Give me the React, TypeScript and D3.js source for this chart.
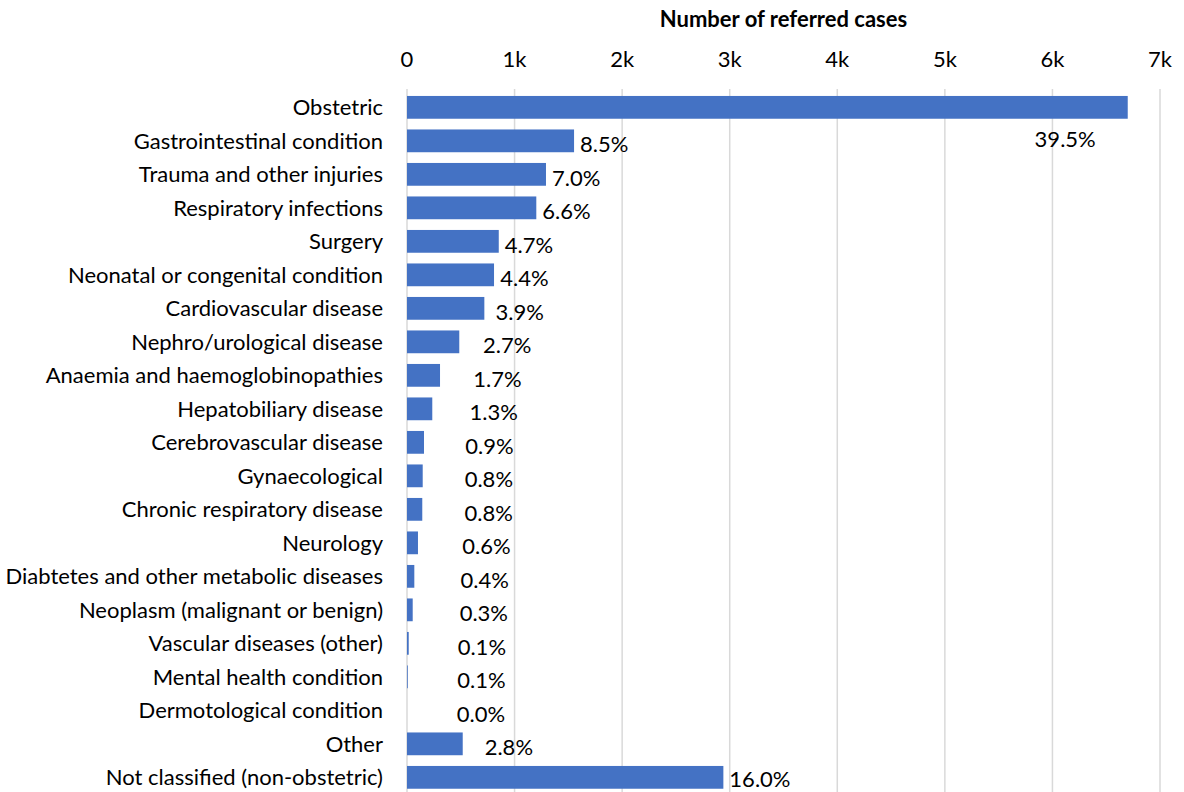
import React, { useEffect, useRef } from "react";
import * as d3 from "d3";

const categories = [
  "Obstetric",
  "Gastrointestinal condition",
  "Trauma and other injuries",
  "Respiratory infections",
  "Surgery",
  "Neonatal or congenital condition",
  "Cardiovascular disease",
  "Nephro/urological disease",
  "Anaemia and haemoglobinopathies",
  "Hepatobiliary disease",
  "Cerebrovascular disease",
  "Gynaecological",
  "Chronic respiratory disease",
  "Neurology",
  "Diabtetes and other metabolic diseases",
  "Neoplasm (malignant or benign)",
  "Vascular diseases (other)",
  "Mental health condition",
  "Dermotological condition",
  "Other",
  "Not classified (non-obstetric)",
];

const cases = [
  6700, 1553, 1292, 1202, 853, 809, 719, 486, 307, 235, 158, 146, 142, 102, 68, 53, 16, 7, 0, 518, 2941,
];

const percentLabels = [
  "39.5%", "8.5%", "7.0%", "6.6%", "4.7%", "4.4%", "3.9%", "2.7%", "1.7%", "1.3%", "0.9%", "0.8%",
  "0.8%", "0.6%", "0.4%", "0.3%", "0.1%", "0.1%", "0.0%", "2.8%", "16.0%",
];

const xTicks = [0, 1000, 2000, 3000, 4000, 5000, 6000, 7000];
const xTickLabels = ["0", "1k", "2k", "3k", "4k", "5k", "6k", "7k"];
const axisTitle = "Number of referred cases";

const W = 1184;
const H = 792;
const FONT = "Lato, 'Open Sans', sans-serif";

export default function App() {
  const ref = useRef<SVGSVGElement>(null);

  useEffect(() => {
    const svg = d3.select(ref.current);
    svg.selectAll("*").remove();

    const x = d3.scaleLinear().domain([0, 7000]).range([407, 1160]);
    const y = d3
      .scaleBand<string>()
      .domain(categories)
      .range([90.6, 794.1])
      .paddingInner(0.32)
      .paddingOuter(0.16);

    // gridlines
    svg
      .append("g")
      .selectAll("line")
      .data(xTicks)
      .join("line")
      .attr("x1", (d) => x(d))
      .attr("x2", (d) => x(d))
      .attr("y1", 89)
      .attr("y2", H)
      .attr("stroke", "#d9d9d9")
      .attr("stroke-width", 1.5);

    // title
    svg
      .append("text")
      .attr("x", (x(0) + x(7000)) / 2)
      .attr("y", 27)
      .attr("text-anchor", "middle")
      .attr("font-family", FONT)
      .attr("font-weight", "bold")
      .attr("font-size", 22)
      .attr("fill", "#000")
      .text(axisTitle);

    // tick labels
    svg
      .append("g")
      .selectAll("text")
      .data(xTicks)
      .join("text")
      .attr("x", (d) => x(d))
      .attr("y", 67)
      .attr("text-anchor", "middle")
      .attr("font-family", FONT)
      .attr("font-size", 22)
      .attr("fill", "#000")
      .text((d, i) => xTickLabels[i]);

    // bars
    svg
      .append("g")
      .selectAll("rect")
      .data(categories)
      .join("rect")
      .attr("x", x(0))
      .attr("y", (d) => y(d)!)
      .attr("width", (d, i) => x(cases[i]) - x(0))
      .attr("height", y.bandwidth())
      .attr("fill", "#4472C4");

    // category labels
    svg
      .append("g")
      .selectAll("text")
      .data(categories)
      .join("text")
      .attr("x", 383)
      .attr("y", (d) => y(d)! + y.bandwidth() / 2 + 8)
      .attr("text-anchor", "end")
      .attr("font-family", FONT)
      .attr("font-size", 22)
      .attr("fill", "#000")
      .text((d) => d);

    // value labels
    const lg = svg.append("g");
    categories.forEach((c, i) => {
      const t = lg
        .append("text")
        .attr("font-family", FONT)
        .attr("font-size", 22)
        .attr("fill", "#000")
        .text(percentLabels[i]);
      const tw = (t.node() as SVGTextElement).getComputedTextLength();
      const barEnd = x(cases[i]);
      const cy = y(c)! + y.bandwidth() / 2;
      if (barEnd + 4 + tw > x(7000)) {
        t.attr("x", barEnd - 32 - tw).attr("y", y(c)! + y.bandwidth() + 28);
      } else {
        const centered = x(0) + 74 + (barEnd - x(0)) / 2 - tw / 2;
        t.attr("x", Math.max(barEnd + 6, centered)).attr("y", Math.min(cy + 11.3, H - 5));
      }
    });
  }, []);

  return (
    <svg
      ref={ref}
      width={W}
      height={H}
      style={{ position: "absolute", left: 0, top: 0, background: "#fff" }}
    />
  );
}
